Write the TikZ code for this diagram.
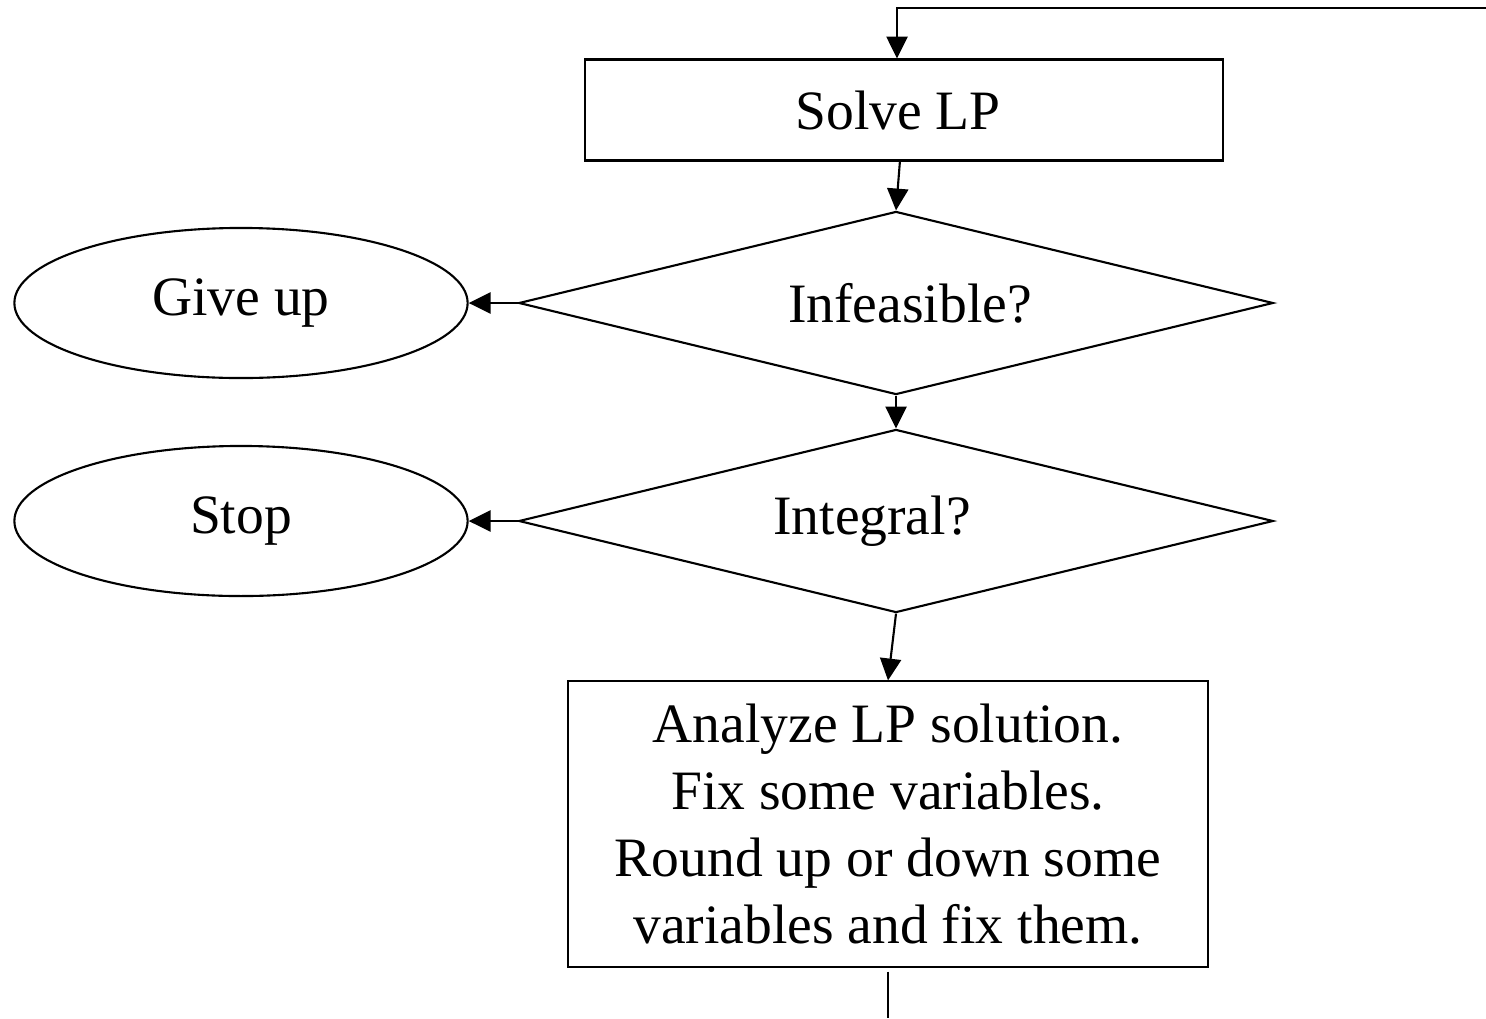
\documentclass[tikz,border=0pt]{standalone}
\usepackage{fontspec}
\setmainfont{Liberation Serif}
\usepackage{tikz}
\usetikzlibrary{positioning}
\usetikzlibrary{arrows.meta}
\usetikzlibrary{shapes.geometric}

\begin{document}
\begin{tikzpicture}[ x = 0.01cm, y = -0.01cm
                     , font = \fontsize{15.8}{19.1}\selectfont
                     , line width = 0.6pt
                     , >={Triangle[width=6pt, length=6.2pt]}
                     , every node/.style = { draw = black
                                         , align = center
                                         , inner sep = 0pt }
                     ]

    \tikzset{ process/.style  = {rectangle, minimum width = 6.37cm, minimum height = 1.01cm}
            , decision/.style = {diamond, aspect = 4.14, minimum width = 7.54cm, minimum height = 1.83cm}
            , terminal/.style = {ellipse, minimum width = 4.53cm, minimum height = 1.50cm}}

    \useasboundingbox (0,0) rectangle (1486,1018);
    %%
    %% Nodes
    %%
    \node (solve)  [process]  at (904,110)  {Solve LP\hspace*{0.12cm}};
    \node (infeas) [decision] at (896,303)  {\hspace*{0.28cm}Infeasible?};
    \node (giveup) [terminal] at (241,303)  {Give up};
    \node (integ)  [decision] at (896,521)  {Integral?\hspace*{0.48cm}};
    \node (stop)   [terminal] at (241,521)  {Stop};
    \node (fixbox) [process, minimum width = 6.39cm, minimum height = 2.85cm]
                              at (888,824)  {Analyze LP solution.\\ Fix some variables.\\
                                             Round up or down some\\ variables and fix them.};

    \coordinate (loopin)  at (1486,8);
    \coordinate (looptop) at (897,8);
    \coordinate (loopout) at (888,1018);
    %%
    %% Connectors
    %%
    \draw[->] (loopin) -- (looptop) -- (looptop |- solve.north);
    \draw[->] (solve) -- (infeas.north);
    \draw[->] (infeas.west) -- (giveup.east);
    \draw[->] (infeas.south) -- (integ.north);
    \draw[->] (integ.west) -- (stop.east);
    \draw[->] (integ.south) -- (fixbox.north);
    \draw (fixbox.south) ++(0,4) -- (loopout);
  \end{tikzpicture}
\end{document}
